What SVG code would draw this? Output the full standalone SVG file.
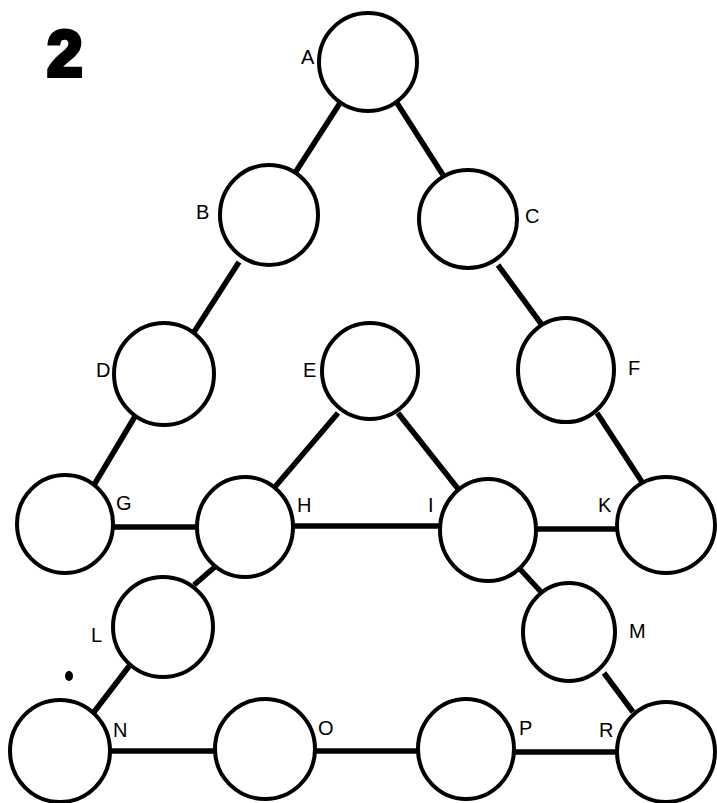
<svg xmlns="http://www.w3.org/2000/svg" width="717" height="803" viewBox="0 0 717 803">
<style>
.n{fill:#fff;stroke:#000;stroke-width:4}
.c line{stroke:#000;stroke-width:5.5;stroke-linecap:butt}
.l{font-family:"Liberation Sans",Arial,sans-serif;font-size:20px;fill:#000}
.t{font-family:"Liberation Sans",Arial,sans-serif;font-size:64px;font-weight:bold;fill:#000;stroke:#000;stroke-width:4}
</style>
<rect width="717" height="803" fill="#fff"/>
<text class="t" x="47" y="76">2</text>
<g class="c" id="connectors">
<line x1="340" y1="103" x2="295" y2="173"/>
<line x1="397" y1="103" x2="443" y2="175"/>
<line x1="239" y1="262" x2="194" y2="332"/>
<line x1="498" y1="265" x2="542" y2="325"/>
<line x1="137" y1="413" x2="94" y2="485"/>
<line x1="338" y1="413" x2="274" y2="488"/>
<line x1="398" y1="413" x2="459" y2="490"/>
<line x1="597" y1="413" x2="642" y2="482"/>
<line x1="113" y1="527" x2="197" y2="527"/>
<line x1="293" y1="526" x2="440" y2="526"/>
<line x1="537" y1="529" x2="617" y2="529"/>
<line x1="217" y1="565" x2="194" y2="585"/>
<line x1="519" y1="568" x2="542" y2="593"/>
<line x1="130" y1="665" x2="94" y2="712"/>
<line x1="604" y1="673" x2="633" y2="712"/>
<line x1="110" y1="751" x2="215" y2="751"/>
<line x1="315" y1="751" x2="418" y2="751"/>
<line x1="514" y1="752" x2="617" y2="752"/>
</g>
<g id="A"><ellipse class="n" cx="368" cy="62" rx="49" ry="49"/><text class="l" x="301" y="64">A</text></g>
<g id="B"><ellipse class="n" cx="269" cy="215" rx="49" ry="50"/><text class="l" x="196" y="219">B</text></g>
<g id="C"><ellipse class="n" cx="468" cy="219" rx="49" ry="49"/><text class="l" x="525" y="223">C</text></g>
<g id="D"><ellipse class="n" cx="164" cy="374" rx="50" ry="51"/><text class="l" x="96" y="377">D</text></g>
<g id="E"><ellipse class="n" cx="370" cy="371" rx="48" ry="48"/><text class="l" x="303" y="377">E</text></g>
<g id="F"><ellipse class="n" cx="566" cy="370" rx="48" ry="52"/><text class="l" x="628" y="375">F</text></g>
<g id="G"><ellipse class="n" cx="65" cy="524" rx="48" ry="49"/><text class="l" x="116" y="510">G</text></g>
<g id="H"><ellipse class="n" cx="245" cy="527" rx="48" ry="50"/><text class="l" x="297" y="512">H</text></g>
<g id="I"><ellipse class="n" cx="488" cy="530" rx="48" ry="51"/><text class="l" x="428" y="512">I</text></g>
<g id="K"><ellipse class="n" cx="666" cy="525" rx="49" ry="48"/><text class="l" x="598" y="512">K</text></g>
<g id="L"><ellipse class="n" cx="163" cy="627" rx="50" ry="50"/><text class="l" x="91" y="642">L</text></g>
<g id="M"><ellipse class="n" cx="569" cy="632" rx="46" ry="49"/><text class="l" x="629" y="638">M</text></g>
<g id="N"><ellipse class="n" cx="60" cy="751" rx="50" ry="51"/><text class="l" x="113" y="737">N</text></g>
<g id="O"><ellipse class="n" cx="265" cy="749" rx="50" ry="50"/><text class="l" x="318" y="735">O</text></g>
<g id="P"><ellipse class="n" cx="466" cy="749" rx="48" ry="50"/><text class="l" x="519" y="735">P</text></g>
<g id="R"><ellipse class="n" cx="666" cy="752" rx="49" ry="50"/><text class="l" x="599" y="737">R</text></g>
<ellipse cx="69" cy="676" rx="4" ry="5" fill="#000"/>
</svg>
